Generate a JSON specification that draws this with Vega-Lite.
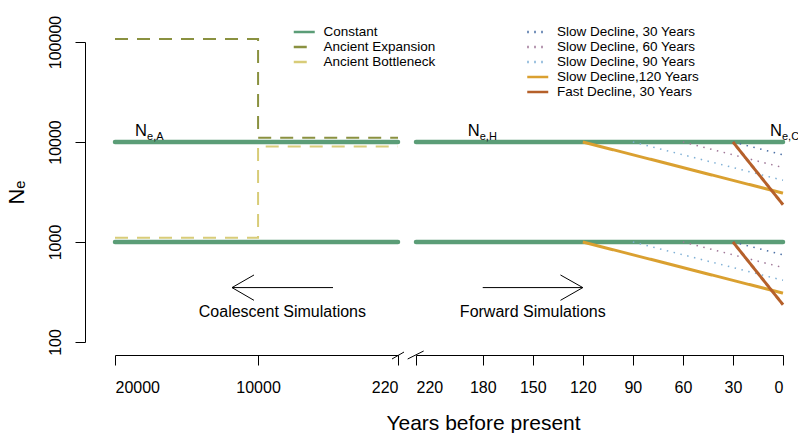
{
  "$schema": "https://vega.github.io/schema/vega-lite/v6.json",
  "padding": {"left": 5, "top": 15, "right": 0, "bottom": 0},
  "spacing": 18,
  "bounds": "flush",
  "config": {
    "font": "Liberation Sans",
    "view": {"stroke": null},
    "axis": {"grid": false, "domainColor": "black", "tickColor": "black", "labelColor": "black", "titleColor": "black", "labelFont": "Liberation Sans", "titleFont": "Liberation Sans", "labelFontSize": 16, "tickSize": 10, "titleFontWeight": "normal"},
    "legend": {"labelFont": "Liberation Sans", "labelColor": "black"}
  },
  "datasets": {
    "left": [
      {"series": "Constant", "grp": "c1", "i": 1, "year": 20000, "ne": 10000},
      {"series": "Constant", "grp": "c1", "i": 2, "year": 220, "ne": 10000},
      {"series": "Constant", "grp": "c2", "i": 1, "year": 20000, "ne": 1000},
      {"series": "Constant", "grp": "c2", "i": 2, "year": 220, "ne": 1000},
      {"series": "Ancient Expansion", "grp": "e", "i": 1, "year": 20000, "ne": 107000},
      {"series": "Ancient Expansion", "grp": "e", "i": 2, "year": 10000, "ne": 107000},
      {"series": "Ancient Expansion", "grp": "e", "i": 3, "year": 10000, "ne": 11000},
      {"series": "Ancient Expansion", "grp": "e", "i": 4, "year": 220, "ne": 11000},
      {"series": "Ancient Bottleneck", "grp": "b", "i": 1, "year": 20000, "ne": 1100},
      {"series": "Ancient Bottleneck", "grp": "b", "i": 2, "year": 10000, "ne": 1100},
      {"series": "Ancient Bottleneck", "grp": "b", "i": 3, "year": 10000, "ne": 9000},
      {"series": "Ancient Bottleneck", "grp": "b", "i": 4, "year": 220, "ne": 9000}
    ],
    "right": [
      {"series": "Constant", "grp": "c1", "year": 220, "ne": 10000},
      {"series": "Constant", "grp": "c1", "year": 0, "ne": 10000},
      {"series": "Constant", "grp": "c2", "year": 220, "ne": 1000},
      {"series": "Constant", "grp": "c2", "year": 0, "ne": 1000},
      {"series": "Slow Decline, 30 Years", "grp": "s30a", "year": 30, "ne": 10000},
      {"series": "Slow Decline, 30 Years", "grp": "s30a", "year": 0, "ne": 7440},
      {"series": "Slow Decline, 30 Years", "grp": "s30b", "year": 30, "ne": 1000},
      {"series": "Slow Decline, 30 Years", "grp": "s30b", "year": 0, "ne": 744},
      {"series": "Slow Decline, 60 Years", "grp": "s60a", "year": 60, "ne": 10000},
      {"series": "Slow Decline, 60 Years", "grp": "s60a", "year": 0, "ne": 5550},
      {"series": "Slow Decline, 60 Years", "grp": "s60b", "year": 60, "ne": 1000},
      {"series": "Slow Decline, 60 Years", "grp": "s60b", "year": 0, "ne": 555},
      {"series": "Slow Decline, 90 Years", "grp": "s90a", "year": 90, "ne": 10000},
      {"series": "Slow Decline, 90 Years", "grp": "s90a", "year": 0, "ne": 4140},
      {"series": "Slow Decline, 90 Years", "grp": "s90b", "year": 90, "ne": 1000},
      {"series": "Slow Decline, 90 Years", "grp": "s90b", "year": 0, "ne": 414},
      {"series": "Slow Decline,120 Years", "grp": "s120a", "year": 120, "ne": 10000},
      {"series": "Slow Decline,120 Years", "grp": "s120a", "year": 0, "ne": 3080},
      {"series": "Slow Decline,120 Years", "grp": "s120b", "year": 120, "ne": 1000},
      {"series": "Slow Decline,120 Years", "grp": "s120b", "year": 0, "ne": 308},
      {"series": "Fast Decline, 30 Years", "grp": "f30a", "year": 30, "ne": 10000},
      {"series": "Fast Decline, 30 Years", "grp": "f30a", "year": 0, "ne": 2360},
      {"series": "Fast Decline, 30 Years", "grp": "f30b", "year": 30, "ne": 1000},
      {"series": "Fast Decline, 30 Years", "grp": "f30b", "year": 0, "ne": 236}
    ],
    "leftSeg": [
      {"x": 4763, "y": 350, "x2": 11822, "y2": 350},
      {"x": 11822, "y": 350, "x2": 10285, "y2": 468},
      {"x": 11822, "y": 350, "x2": 10285, "y2": 261},
      {"x": 639, "y": 67.6, "x2": -200, "y2": 79.4}
    ],
    "rightSeg": [
      {"x": 180, "y": 350, "x2": 120, "y2": 350},
      {"x": 120, "y": 350, "x2": 133.4, "y2": 468},
      {"x": 120, "y": 350, "x2": 133.4, "y2": 261},
      {"x": 225, "y": 67.6, "x2": 215.4, "y2": 81.3}
    ],
    "leftText": [
      {"year": 8300, "ne": 200, "label": "Coalescent Simulations"}
    ],
    "rightText": [
      {"year": 150, "ne": 200, "label": "Forward Simulations"}
    ],
    "leftN": [
      {"year": 18600, "ne": 11500, "main": "N", "sub": "e,A"}
    ],
    "rightN": [
      {"year": 189, "ne": 11500, "main": "N", "sub": "e,H"},
      {"year": 7.8, "ne": 11500, "main": "N", "sub": "e,C"}
    ]
  },
  "hconcat": [
    {
      "width": 283,
      "height": 300,
      "encoding": {
        "x": {"field": "year", "type": "quantitative", "scale": {"domain": [220, 20000], "reverse": true, "nice": false, "zero": false},
              "axis": {"values": [20000, 10000, 220], "format": "d", "offset": 13, "labelPadding": 14, "title": null}},
        "y": {"field": "ne", "type": "quantitative", "scale": {"type": "log", "domain": [100, 100000], "nice": false},
              "axis": {"values": [100, 1000, 10000, 100000], "format": "d", "labelAngle": -90, "offset": 30, "labelPadding": 12, "title": "Nₑ", "titleFontSize": 22, "titlePadding": 19}}
      },
      "layer": [
        {
          "data": {"name": "left"},
          "transform": [{"filter": "datum.series == 'Constant'"}],
          "mark": {"type": "line", "strokeWidth": 4.5, "strokeCap": "round"},
          "encoding": {
            "detail": {"field": "grp"},
            "order": {"field": "i"},
            "color": {"field": "series", "type": "nominal", "scale": {"domain": ["Constant", "Ancient Expansion", "Ancient Bottleneck"], "range": ["#5b9d77", "#8a9140", "#d8cc78"]},
                      "legend": {"title": null, "orient": "none", "legendX": 182.5, "legendY": -16.75, "symbolType": "M-2.1,0H2.1", "symbolSize": 100, "symbolStrokeWidth": 2.5, "labelFontSize": 13.5, "rowPadding": 0, "labelOffset": 12.5}},
            "strokeDash": {"field": "series", "type": "nominal", "scale": {"domain": ["Constant", "Ancient Expansion", "Ancient Bottleneck"], "range": [[1, 0], [13, 9], [13, 9]]},
                      "legend": {"title": null, "orient": "none", "legendX": 182.5, "legendY": -16.75, "symbolType": "M-2.1,0H2.1", "symbolSize": 100, "symbolStrokeWidth": 2.5, "labelFontSize": 13.5, "rowPadding": 0, "labelOffset": 12.5}}
          }
        },
        {
          "data": {"name": "left"},
          "transform": [{"filter": "datum.series != 'Constant'"}],
          "mark": {"type": "line", "strokeWidth": 2},
          "encoding": {
            "detail": {"field": "grp"},
            "order": {"field": "i"},
            "color": {"field": "series", "type": "nominal"},
            "strokeDash": {"field": "series", "type": "nominal"}
          }
        },
        {
          "data": {"name": "leftSeg"},
          "mark": {"type": "rule", "color": "black", "strokeWidth": 1},
          "encoding": {
            "x": {"field": "x", "type": "quantitative"},
            "x2": {"field": "x2"},
            "y": {"field": "y", "type": "quantitative"},
            "y2": {"field": "y2"}
          }
        },
        {
          "data": {"name": "leftText"},
          "mark": {"type": "text", "fontSize": 16, "align": "center", "baseline": "middle", "color": "black"},
          "encoding": {"text": {"field": "label"}}
        },
        {
          "data": {"name": "leftN"},
          "mark": {"type": "text", "fontSize": 16.5, "align": "left", "baseline": "alphabetic", "color": "black"},
          "encoding": {"text": {"field": "main"}}
        },
        {
          "data": {"name": "leftN"},
          "mark": {"type": "text", "fontSize": 11, "align": "left", "baseline": "alphabetic", "dx": 12, "dy": 4, "color": "black"},
          "encoding": {"text": {"field": "sub"}}
        }
      ]
    },
    {
      "width": 367,
      "height": 300,
      "encoding": {
        "x": {"field": "year", "type": "quantitative", "scale": {"domain": [0, 220], "reverse": true, "nice": false, "zero": false},
              "axis": {"values": [220, 180, 150, 120, 90, 60, 30, 0], "format": "d", "offset": 13, "labelPadding": 14, "title": "Years before present", "titleFontSize": 21, "titleX": 67, "titleY": 74, "titleAlign": "center", "titleBaseline": "alphabetic"}},
        "y": {"field": "ne", "type": "quantitative", "scale": {"type": "log", "domain": [100, 100000], "nice": false}, "axis": null}
      },
      "layer": [
        {
          "data": {"name": "right"},
          "transform": [{"filter": "datum.series == 'Constant'"}],
          "mark": {"type": "line", "strokeWidth": 4.5, "strokeCap": "round", "color": "#5b9d77"},
          "encoding": {"detail": {"field": "grp"}}
        },
        {
          "data": {"name": "right"},
          "transform": [{"filter": "indexof(datum.series, 'Slow Decline, ') == 0"}],
          "mark": {"type": "line", "strokeWidth": 1.5},
          "encoding": {
            "detail": {"field": "grp"},
            "color": {"field": "series", "type": "nominal",
                      "scale": {"domain": ["Slow Decline, 30 Years", "Slow Decline, 60 Years", "Slow Decline, 90 Years", "Slow Decline,120 Years", "Fast Decline, 30 Years"], "range": ["#4a6fa5", "#a07898", "#7fb0d6", "#daa030", "#b5602a"]},
                      "legend": {"title": null, "orient": "none", "legendX": 115, "legendY": -16.75, "symbolType": "M-2.1,0H2.1", "symbolSize": 100, "symbolStrokeWidth": 2.5, "labelFontSize": 13.5, "rowPadding": 0, "labelOffset": 12.5}},
            "strokeDash": {"field": "series", "type": "nominal",
                      "scale": {"domain": ["Slow Decline, 30 Years", "Slow Decline, 60 Years", "Slow Decline, 90 Years", "Slow Decline,120 Years", "Fast Decline, 30 Years"], "range": [[1.5, 5.5], [1.5, 5.5], [1.5, 5.5], [1, 0], [1, 0]]},
                      "legend": {"title": null, "orient": "none", "legendX": 115, "legendY": -16.75, "symbolType": "M-2.1,0H2.1", "symbolSize": 100, "symbolStrokeWidth": 2.5, "labelFontSize": 13.5, "rowPadding": 0, "labelOffset": 12.5}}
          }
        },
        {
          "data": {"name": "right"},
          "transform": [{"filter": "datum.series == 'Slow Decline,120 Years' || datum.series == 'Fast Decline, 30 Years'"}],
          "mark": {"type": "line", "strokeWidth": 3},
          "encoding": {
            "detail": {"field": "grp"},
            "color": {"field": "series", "type": "nominal"},
            "strokeDash": {"field": "series", "type": "nominal"}
          }
        },
        {
          "data": {"name": "rightSeg"},
          "mark": {"type": "rule", "color": "black", "strokeWidth": 1},
          "encoding": {
            "x": {"field": "x", "type": "quantitative"},
            "x2": {"field": "x2"},
            "y": {"field": "y", "type": "quantitative"},
            "y2": {"field": "y2"}
          }
        },
        {
          "data": {"name": "rightText"},
          "mark": {"type": "text", "fontSize": 16, "align": "center", "baseline": "middle", "color": "black"},
          "encoding": {"text": {"field": "label"}}
        },
        {
          "data": {"name": "rightN"},
          "mark": {"type": "text", "fontSize": 16.5, "align": "left", "baseline": "alphabetic", "color": "black"},
          "encoding": {"text": {"field": "main"}}
        },
        {
          "data": {"name": "rightN"},
          "mark": {"type": "text", "fontSize": 11, "align": "left", "baseline": "alphabetic", "dx": 12, "dy": 4, "color": "black"},
          "encoding": {"text": {"field": "sub"}}
        }
      ]
    }
  ],
  "resolve": {"scale": {"color": "independent", "strokeDash": "independent", "x": "independent"}, "legend": {"color": "independent", "strokeDash": "independent"}}
}
